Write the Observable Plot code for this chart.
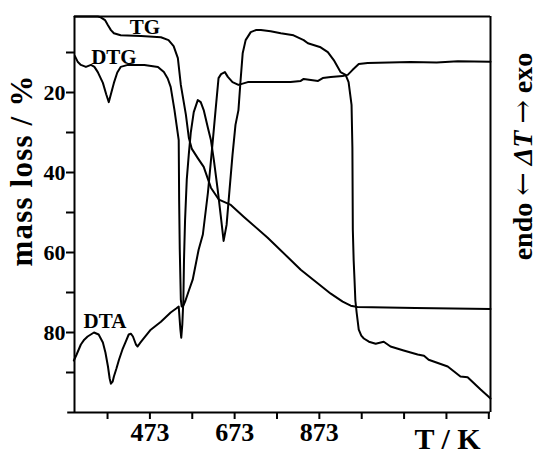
<!DOCTYPE html>
<html><head><meta charset="utf-8">
<script src="https://cdn.jsdelivr.net/npm/d3@7"></script>
<script src="https://cdn.jsdelivr.net/npm/@observablehq/plot@0.6"></script>
<style>html,body{margin:0;padding:0;background:#fff}svg{display:block}</style>
</head><body><div id="chart"></div>
<script>
// Temperature / K and mass loss / % (DTG and DTA drawn on the same scale)
const TG = [[295,1.0],[350,1.0],[357,1.2],[367,1.9],[374,3.2],[381,4.4],[388,5.2],[404,5.7],[452,5.9],[499,6.2],[517,6.9],[529,8.4],[539,11.4],[546,18.1],[550,20.6],[558,25.6],[565,31.4],[572,34.1],[586,36.4],[600,38.6],[617,43.8],[636,46.8],[664,48.1],[695,51.1],[751,56.3],[829,64.3],[900,70.3],[928,72.3],[947,73.3],[963,73.6],[1100,73.9],[1277,74.1]];
const DTG = [[296,10.9],[303,12.4],[310,13.1],[322,13.6],[334,13.1],[342,13.6],[350,14.9],[362,17.6],[370,20.5],[376,22.4],[382,20.0],[388,17.6],[396,15.0],[404,13.6],[421,13.1],[460,13.1],[492,13.6],[506,14.9],[515,16.5],[522,18.6],[531,24.4],[541,31.9],[542,46.8],[543.5,59.3],[546,71.8],[548,73.5],[552,73.3],[557,72.0],[565,69.5],[574,66.8],[588,59.3],[598,55.5],[610,45.0],[621,32.6],[628,24.4],[635,16.4],[641,15.4],[650,14.9],[657,16.1],[668,17.4],[682,18.1],[704,17.4],[758,17.4],[805,17.4],[829,17.1],[836,16.6],[870,17.1],[881,16.4],[900,16.1],[928,15.9],[940,15.6],[951,14.4],[966,12.9],[987,12.6],[1088,12.4],[1150,12.5],[1200,12.2],[1277,12.3]];
const DTA = [[293.5,87.0],[300,85.5],[310,83.0],[318,81.8],[326,81.0],[341,80.0],[352,80.5],[362,82.5],[368,85.0],[374,88.5],[378,91.5],[381,92.8],[385,92.3],[388,91.0],[394,89.0],[400,86.8],[408,84.3],[416,82.3],[423,80.5],[428,80.3],[433,81.0],[440,83.0],[444,83.5],[450,82.6],[456,81.8],[475,79.3],[499,77.3],[522,75.0],[535,74.0],[541,73.5],[545,79.3],[547,81.3],[549.5,78.0],[552,71.8],[553.5,61.8],[556,51.9],[560,41.8],[564.7,35.6],[569.4,30.1],[576.5,24.9],[586,21.9],[593,22.4],[600,24.4],[610,28.9],[617,31.9],[624,36.9],[633,44.3],[640,50.6],[647,57.1],[654,53.1],[661,44.3],[668,35.6],[675,28.1],[682,24.4],[687,17.0],[692,10.2],[699,6.9],[711,4.9],[723,4.4],[735,4.4],[758,4.7],[782,5.2],[812,5.7],[836,6.9],[846,7.7],[876,8.7],[893,9.9],[907,11.9],[923,14.9],[935,15.6],[942,17.4],[949,23.1],[951,33.9],[952,54.3],[954,62.0],[956,66.8],[958,72.0],[961,75.0],[966,79.3],[972,80.8],[978,81.5],[990,82.3],[1006,82.8],[1025,82.3],[1041,83.5],[1072,84.5],[1105,85.5],[1120,85.8],[1131,86.8],[1176,88.5],[1206,91.0],[1223,91.2],[1253,94.2],[1272,96.0],[1277,96.5]];

const curveNames = ["TG", "DTG", "DTA"];
const curveLabelT = [461, 388, 367];
const curveLabelV = [3.7, 11.2, 77.3];

const xTicks = [373, 473, 573, 673, 773, 873, 973, 1073, 1173, 1273];
const xTickLabels = [473, 673, 873];
const yTicks = [10, 20, 30, 40, 50, 60, 70, 80, 90];
const yTickLabels = [20, 40, 60, 80];
const xDomain = [295, 1277];
const yDomain = [1, 100];

const yTitle = "mass loss / %";
const xTitle = "T / K";
const rightTitle = "endo \u2190 \u0394T \u2192 exo";

const toRows = a => a.map(([T, v]) => ({T, v}));
const labels = curveNames.map((name, i) => ({name, T: curveLabelT[i], v: curveLabelV[i]}));

const lineOpts = {x: "T", y: "v", stroke: "black", strokeWidth: 2, curve: "linear", strokeLinejoin: "round"};

const chart = Plot.plot({
  width: 539, height: 455,
  marginLeft: 74, marginRight: 49, marginTop: 16, marginBottom: 43,
  x: {domain: xDomain},
  y: {domain: yDomain, reverse: true},
  style: {fontFamily: "'Liberation Serif', serif", fontWeight: "bold", color: "black", background: "white"},
  marks: [
    Plot.axisY({ticks: yTicks, tickFormat: d => yTickLabels.includes(d) ? String(d) : "", tickSize: 8, tickPadding: 1, fontSize: 22, strokeWidth: 2, label: null}),
    Plot.axisX({ticks: xTicks, tickFormat: d => xTickLabels.includes(d) ? String(d) : "", tickSize: 7, tickPadding: 3, fontSize: 26, strokeWidth: 2, label: null}),
    Plot.ruleX([xDomain[0]], {strokeWidth: 2}),
    Plot.ruleX([xDomain[1]], {strokeWidth: 2}),
    Plot.ruleY([yDomain[0]], {strokeWidth: 2}),
    Plot.ruleY([yDomain[1]], {x1: 279, x2: xDomain[1], strokeWidth: 2}),
    Plot.line(toRows(TG), lineOpts),
    Plot.line(toRows(DTG), lineOpts),
    Plot.line(toRows(DTA), lineOpts),
    Plot.text(labels, {x: "T", y: "v", text: "name", fontSize: 21, fontWeight: "bold"}),
    Plot.text([yTitle], {text: d => d, frameAnchor: "left", textAnchor: "middle", rotate: -90, dx: -52, dy: -44, fontSize: 31, fontWeight: "bold", lineAnchor: "middle"}),
    Plot.text([xTitle], {text: d => d, frameAnchor: "bottom-right", textAnchor: "middle", dx: -43, dy: 27, fontSize: 30, fontWeight: "bold", lineAnchor: "middle"}),
    Plot.text([rightTitle], {text: d => d, frameAnchor: "right", textAnchor: "middle", rotate: -90, dx: 33, dy: -58, fontSize: 28, fontWeight: "bold", lineAnchor: "middle"})
  ]
});

// letter spacing on the left title, italic ΔT and larger arrows in the right title
d3.select(chart).selectAll("text").filter(function() { return this.textContent === yTitle; })
  .attr("letter-spacing", 1.2);
d3.select(chart).selectAll("text").filter(function() { return this.textContent === rightTitle; })
  .each(function() {
    const t = d3.select(this);
    t.text(null);
    t.append("tspan").text("endo ");
    t.append("tspan").attr("font-family", "'DejaVu Serif', serif").attr("font-weight", "normal").text("\u2190");
    t.append("tspan").text(" ");
    t.append("tspan").attr("font-style", "italic").text("\u0394T");
    t.append("tspan").text(" ");
    t.append("tspan").attr("font-family", "'DejaVu Serif', serif").attr("font-weight", "normal").text("\u2192");
    t.append("tspan").text(" exo");
  });

document.getElementById("chart").appendChild(chart);
</script>
</body></html>
